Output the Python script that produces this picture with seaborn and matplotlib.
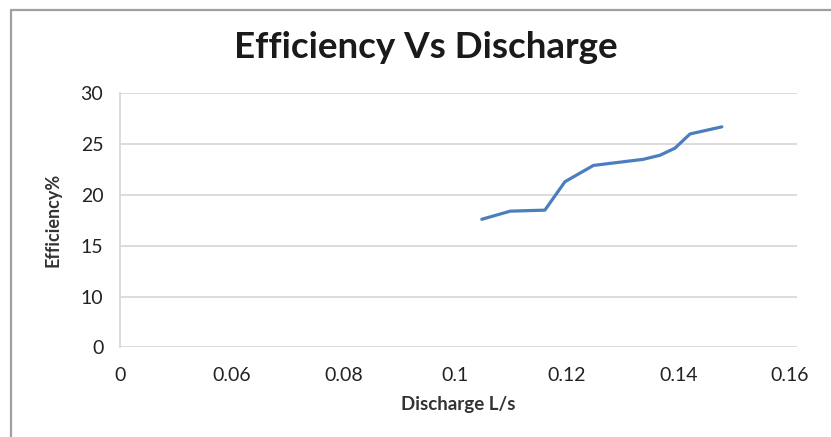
import numpy as np
import pandas as pd
import seaborn as sns
import matplotlib.pyplot as plt
from matplotlib.lines import Line2D

# Дані
discharge = [0.1048, 0.1099, 0.1161, 0.1197, 0.1248, 0.1337, 0.1367, 0.1394, 0.1421, 0.1478]
efficiency = [17.6, 18.4, 18.5, 21.3, 22.9, 23.5, 23.9, 24.6, 26.0, 26.7]

# Мітки осей (як в оригіналі: вісь "розірвана")
x_ticks = [0.04, 0.06, 0.08, 0.10, 0.12, 0.14, 0.16]
x_labels = ["0", "0.06", "0.08", "0.1", "0.12", "0.14", "0.16"]
y_ticks = [5, 10, 15, 20, 25, 30]
y_labels = ["0", "10", "15", "20", "25", "30"]

data = pd.DataFrame({"Discharge": discharge, "Efficiency": efficiency})

sns.set_theme(style="white")
plt.rcParams['font.family'] = ['Lato', 'DejaVu Sans']

W, H = 831, 437
fig = plt.figure(figsize=(W / 100, H / 100), dpi=100)
ax = fig.add_axes([120 / W, 1 - 347.3 / H, (797 - 120) / W, (347.3 - 93.3) / H])

sns.lineplot(data=data, x="Discharge", y="Efficiency", ax=ax,
             color="#4a7ebf", linewidth=2.3, sort=False)

ax.set_xlim(0.04, 0.04 + (797 - 120) / 5583)
ax.set_ylim(5, 30)
ax.set_xticks(x_ticks)
ax.set_xticklabels(x_labels)
ax.set_yticks(y_ticks)
ax.set_yticklabels(y_labels)
ax.tick_params(axis="both", length=0, labelsize=14, colors="#222222")
ax.tick_params(axis="x", pad=14)
ax.tick_params(axis="y", pad=12)
ax.grid(axis="y", color="#d9d9d9", linewidth=1.3)
for side in ["top", "right", "bottom"]:
    ax.spines[side].set_visible(False)
ax.spines["left"].set_color("#d9d9d9")
ax.spines["left"].set_linewidth(1.3)

ax.set_xlabel("Discharge L/s", fontsize=13.5, fontweight="bold", color="#333333", labelpad=9)
ax.set_ylabel("Efficiency%", fontsize=13, fontweight="bold", color="#333333", labelpad=14)

fig.text(426 / W, 1 - 48 / H, "Efficiency Vs Discharge", ha="center", va="center",
         fontsize=26.5, fontweight="bold", color="#1a1a1a")

# Рамка діаграми
fig.add_artist(Line2D([10.5 / W, 10.5 / W], [0, 1 - 9.5 / H], color="#a0a0a0", linewidth=1.6))
fig.add_artist(Line2D([10.5 / W, 1], [1 - 9.5 / H, 1 - 9.5 / H], color="#a0a0a0", linewidth=1.6))

fig.savefig("out.png", dpi=100)
